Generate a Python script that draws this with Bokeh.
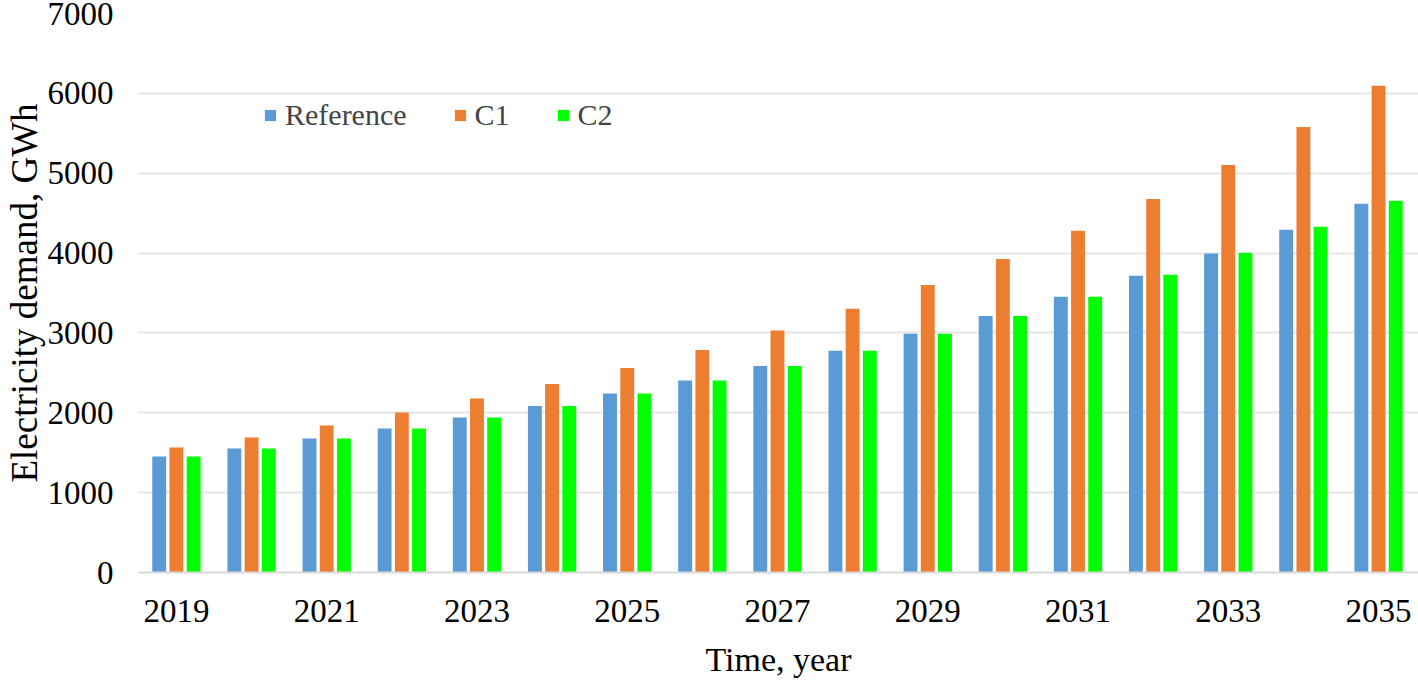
from bokeh.plotting import figure
from bokeh.models import ColumnDataSource, Legend, LegendItem, FixedTicker, Range1d
from bokeh.transform import dodge
from bokeh.embed import file_html
from bokeh.resources import INLINE

years = list(range(2019, 2036))
reference = [1452, 1552, 1677, 1802, 1940, 2086, 2240, 2403, 2587, 2778, 2991, 3213, 3454, 3717, 3996, 4293, 4618]
c1 = [1565, 1690, 1840, 2003, 2178, 2362, 2562, 2787, 3029, 3304, 3601, 3926, 4280, 4677, 5103, 5578, 6095]
c2 = [1452, 1552, 1677, 1802, 1940, 2086, 2240, 2403, 2587, 2778, 2991, 3213, 3454, 3730, 4005, 4330, 4656]
x_ticks = [2019, 2021, 2023, 2025, 2027, 2029, 2031, 2033, 2035]
y_ticks = [0, 1000, 2000, 3000, 4000, 5000, 6000, 7000]

src = ColumnDataSource(dict(year=years, ref=reference, c1=c1, c2=c2))

FONT = "Liberation Serif"

p = figure(width=1418, height=680, output_backend="svg", toolbar_location=None,
           x_range=Range1d(2018.495, 2035.532), y_range=Range1d(0, 7000),
           min_border_left=137, min_border_right=0, min_border_top=13, min_border_bottom=108)
p.outline_line_color = None
p.background_fill_color = "white"

w = 0.185
off = 0.229
r1 = p.vbar(x=dodge("year", -off, range=p.x_range), top="ref", width=w, source=src,
            fill_color="#5B9BD5", line_color=None)
r2 = p.vbar(x=dodge("year", 0, range=p.x_range), top="c1", width=w, source=src,
            fill_color="#ED7D31", line_color=None)
r3 = p.vbar(x=dodge("year", off, range=p.x_range), top="c2", width=w, source=src,
            fill_color="#00FF00", line_color=None)

p.xaxis.ticker = FixedTicker(ticks=x_ticks)
p.yaxis.ticker = FixedTicker(ticks=y_ticks)
for ax in (p.xaxis, p.yaxis):
    ax.major_tick_line_color = None
    ax.minor_tick_line_color = None
    ax.major_tick_out = 0
    ax.major_tick_in = 0
    ax.minor_tick_out = 0
    ax.minor_tick_in = 0
    ax.major_label_text_font = FONT
    ax.major_label_text_font_size = "33px"
    ax.major_label_text_color = "black"
    ax.axis_label_text_font = FONT
    ax.axis_label_text_font_style = "normal"
    ax.axis_label_text_color = "black"

p.xaxis.axis_line_color = "#d9d9d9"
p.xaxis.axis_line_width = 2
p.xaxis.major_label_standoff = 27
p.xaxis.axis_label = "Time, year"
p.xaxis.axis_label_text_font_size = "34px"
p.xaxis.axis_label_standoff = 16

p.yaxis.axis_line_color = None
p.yaxis.major_label_standoff = 25
p.yaxis.axis_label = "Electricity demand, GWh"
p.yaxis.axis_label_text_font_size = "37px"
p.yaxis.axis_label_standoff = 0

p.xgrid.grid_line_color = None
p.ygrid.grid_line_color = "#e6e6e6"
p.ygrid.grid_line_width = 2

legend = Legend(items=[LegendItem(label="Reference", renderers=[r1]),
                       LegendItem(label="C1", renderers=[r2]),
                       LegendItem(label="C2", renderers=[r3])],
                orientation="horizontal", location=(125, 440),
                label_text_font=FONT, label_text_font_size="30px",
                glyph_width=14, glyph_height=14, label_standoff=8, spacing=46,
                padding=0, margin=0, border_line_color=None, background_fill_alpha=0)
p.add_layout(legend, "center")

open("out.html", "w").write(file_html(p, INLINE))
